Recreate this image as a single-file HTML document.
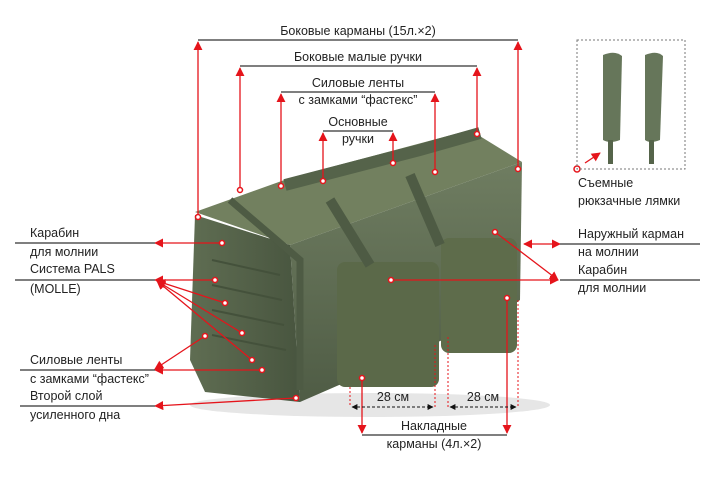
<!DOCTYPE html>
<html><head><meta charset="utf-8"><style>
body{margin:0;background:#fff;width:715px;height:475px;overflow:hidden}
svg text{font-family:"Liberation Sans",sans-serif;font-size:12.5px;fill:#222}
</style></head><body>
<svg width="715" height="475" viewBox="0 0 715 475" xmlns="http://www.w3.org/2000/svg">
<defs>
<marker id="a" viewBox="0 0 10 10" refX="9" refY="5" markerWidth="7" markerHeight="7" orient="auto-start-reverse"><path d="M0,0L10,5L0,10z" fill="#e5141b"/></marker>
<marker id="ad" viewBox="0 0 10 10" refX="9" refY="5" markerWidth="6" markerHeight="6" orient="auto-start-reverse"><path d="M0,0L10,5L0,10z" fill="#111"/></marker>
<linearGradient id="g1" x1="0" y1="0" x2="0" y2="1"><stop offset="0" stop-color="#6f7d61"/><stop offset="1" stop-color="#4f5c45"/></linearGradient>
<linearGradient id="g2" x1="0" y1="0" x2="1" y2="0"><stop offset="0" stop-color="#5f6d52"/><stop offset="1" stop-color="#48553f"/></linearGradient>
</defs>
<!-- bag -->
<ellipse cx="370" cy="405" rx="180" ry="12" fill="#e6e6e6"/>
<polygon points="195,212 290,178 470,130 522,162 290,245" fill="#72805f"/>
<polygon points="290,245 522,162 520,300 500,315 300,402" fill="url(#g1)"/>
<polygon points="195,215 290,245 300,402 205,392 190,360" fill="url(#g2)"/>
<rect x="337" y="262" width="102" height="125" rx="8" fill="#5b6949"/>
<rect x="441" y="238" width="76" height="115" rx="8" fill="#5e6c4b"/>
<path d="M285,185 L420,150 L480,133" stroke="#55634a" stroke-width="12" fill="none"/>
<path d="M230,200 L300,260 L300,390" stroke="#4e5b44" stroke-width="7" fill="none"/>
<path d="M330,200 L370,265 M410,175 L440,245" stroke="#4e5b44" stroke-width="10" fill="none"/>
<g stroke="#44513b" stroke-width="2"><line x1="212" y1="260" x2="280" y2="275"/><line x1="212" y1="285" x2="282" y2="300"/><line x1="212" y1="310" x2="284" y2="325"/><line x1="212" y1="335" x2="286" y2="350"/></g>
<!-- top brackets -->
<g stroke="#333" stroke-width="1.2"><line x1="198" y1="40" x2="518" y2="40"/><line x1="240" y1="66" x2="477" y2="66"/><line x1="281" y1="92" x2="435" y2="92"/><line x1="323" y1="131" x2="393" y2="131"/></g>
<text x="358" y="35" text-anchor="middle">Боковые карманы (15л.×2)</text>
<text x="358" y="61" text-anchor="middle">Боковые малые ручки</text>
<text x="358" y="87" text-anchor="middle">Силовые ленты</text>
<text x="358" y="104" text-anchor="middle">с замками “фастекс”</text>
<text x="358" y="126" text-anchor="middle">Основные</text>
<text x="358" y="143" text-anchor="middle">ручки</text>
<g stroke="#e5141b" stroke-width="1.3" fill="none" marker-end="url(#a)">
<line x1="198" y1="217" x2="198" y2="42"/><line x1="240" y1="190" x2="240" y2="68"/>
<line x1="281" y1="186" x2="281" y2="94"/><line x1="323" y1="181" x2="323" y2="133"/>
<line x1="393" y1="163" x2="393" y2="133"/><line x1="435" y1="172" x2="435" y2="94"/>
<line x1="477" y1="134" x2="477" y2="68"/><line x1="518" y1="169" x2="518" y2="42"/>
<line x1="222" y1="243" x2="155" y2="243"/>
<line x1="215" y1="280" x2="155" y2="280"/>
<line x1="225" y1="303" x2="157" y2="281"/><line x1="242" y1="333" x2="157" y2="281"/><line x1="252" y1="360" x2="157" y2="281"/>
<line x1="205" y1="336" x2="155" y2="369"/><line x1="262" y1="370" x2="155" y2="370"/>
<line x1="296" y1="398" x2="155" y2="406"/>
<line x1="495" y1="232" x2="558" y2="280"/>
<line x1="391" y1="280" x2="558" y2="280"/>
<line x1="507" y1="298" x2="507" y2="433"/><line x1="362" y1="378" x2="362" y2="433"/>
<line x1="560" y1="244" x2="524" y2="244" marker-start="url(#a)"/>
<line x1="585" y1="163" x2="600" y2="153"/>
</g>
<g fill="#fff" stroke="#e5141b" stroke-width="1.5">
<circle cx="198" cy="217" r="2.5"/><circle cx="240" cy="190" r="2.5"/><circle cx="281" cy="186" r="2.5"/><circle cx="323" cy="181" r="2.5"/><circle cx="393" cy="163" r="2.5"/><circle cx="435" cy="172" r="2.5"/><circle cx="477" cy="134" r="2.5"/><circle cx="518" cy="169" r="2.5"/>
<circle cx="222" cy="243" r="2.5"/><circle cx="215" cy="280" r="2.5"/><circle cx="225" cy="303" r="2.5"/><circle cx="242" cy="333" r="2.5"/><circle cx="252" cy="360" r="2.5"/><circle cx="205" cy="336" r="2.5"/><circle cx="262" cy="370" r="2.5"/><circle cx="296" cy="398" r="2.5"/>
<circle cx="495" cy="232" r="2.5"/><circle cx="391" cy="280" r="2.5"/><circle cx="507" cy="298" r="2.5"/><circle cx="362" cy="378" r="2.5"/><circle cx="577" cy="169" r="3"/>
</g>
<g stroke="#333" stroke-width="1.2"><line x1="15" y1="243" x2="155" y2="243"/><line x1="15" y1="280" x2="155" y2="280"/><line x1="20" y1="370" x2="155" y2="370"/><line x1="20" y1="406" x2="155" y2="406"/>
<line x1="560" y1="244" x2="700" y2="244"/><line x1="560" y1="280" x2="700" y2="280"/><line x1="362" y1="435" x2="507" y2="435"/></g>
<text x="30" y="237">Карабин</text><text x="30" y="256">для молнии</text>
<text x="30" y="273">Система PALS</text><text x="30" y="293">(MOLLE)</text>
<text x="30" y="364">Силовые ленты</text><text x="30" y="383">с замками “фастекс”</text>
<text x="30" y="400">Второй слой</text><text x="30" y="419">усиленного дна</text>
<text x="578" y="238">Наружный карман</text><text x="578" y="256">на молнии</text>
<text x="578" y="274">Карабин</text><text x="578" y="292">для молнии</text>
<text x="434" y="430" text-anchor="middle">Накладные</text><text x="434" y="448" text-anchor="middle">карманы (4л.×2)</text>
<text x="393" y="401" text-anchor="middle">28 см</text><text x="483" y="401" text-anchor="middle">28 см</text>
<g stroke="#e5141b" stroke-width="1" stroke-dasharray="2,2"><line x1="350" y1="387" x2="350" y2="407"/><line x1="435" y1="345" x2="435" y2="407"/><line x1="448" y1="337" x2="448" y2="407"/><line x1="518" y1="300" x2="518" y2="407"/></g>
<g stroke="#111" stroke-width="1" stroke-dasharray="3,2"><line x1="352" y1="407" x2="433" y2="407" marker-start="url(#ad)" marker-end="url(#ad)"/><line x1="450" y1="407" x2="516" y2="407" marker-start="url(#ad)" marker-end="url(#ad)"/></g>
<rect x="577" y="40" width="108" height="129" fill="none" stroke="#777" stroke-dasharray="2,2"/>
<path d="M603,55 Q615,50 622,56 L620,140 Q610,144 603,140 Z" fill="#66765a"/>
<rect x="608" y="140" width="5" height="24" fill="#55644a"/>
<path d="M645,55 Q657,50 663,56 L660,140 Q650,144 645,140 Z" fill="#66765a"/>
<rect x="649" y="140" width="5" height="24" fill="#55644a"/>
<text x="578" y="187">Съемные</text><text x="578" y="205">рюкзачные лямки</text>
</svg>
</body></html>
